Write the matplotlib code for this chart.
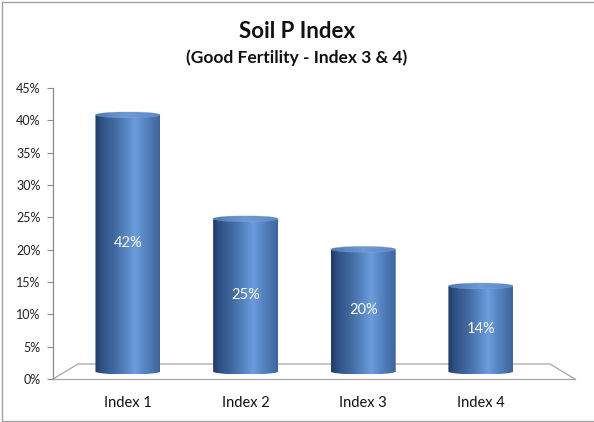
import numpy as np
import matplotlib
matplotlib.use("Agg")
import matplotlib.pyplot as plt
from matplotlib.colors import LinearSegmentedColormap
from matplotlib.patches import Ellipse, PathPatch
from matplotlib.path import Path
from matplotlib.lines import Line2D

# ---- data ----
categories = ["Index 1", "Index 2", "Index 3", "Index 4"]
values = [0.42, 0.25, 0.20, 0.14]
value_labels = ["42%", "25%", "20%", "14%"]
y_ticks = [0.00, 0.05, 0.10, 0.15, 0.20, 0.25, 0.30, 0.35, 0.40, 0.45]
y_tick_labels = ["0%", "5%", "10%", "15%", "20%", "25%", "30%", "35%", "40%", "45%"]
title = "Soil P Index"
subtitle = "(Good Fertility - Index 3 & 4)"

plt.rcParams['font.family'] = ['Lato', 'DejaVu Sans']

W, H = 594, 422
fig = plt.figure(figsize=(W / 100, H / 100), dpi=100)
fig.patch.set_facecolor("white")

# axes occupying the plot area (pixel based placement)
L, R, T, B = 53, 575, 88, 379
ax = fig.add_axes([L / W, 1 - B / H, (R - L) / W, (B - T) / H])
ax.set_facecolor("none")

xmin, xmax = -0.637, 3.80
ax.set_xlim(xmin, xmax)
ax.set_ylim(0, 0.45)

grey = "#8c8c8c"
for s in ["top", "right", "bottom"]:
    ax.spines[s].set_visible(False)
ax.spines["left"].set_color(grey)
ax.spines["left"].set_linewidth(0.9)

ax.set_yticks(y_ticks)
ax.set_yticklabels(y_tick_labels, fontsize=9, color="#222222")
ax.tick_params(axis="y", direction="out", length=4, width=0.8, color=grey, pad=5)
ax.set_xticks(range(len(categories)))
ax.set_xticklabels(categories, fontsize=10.5, color="#111111")
ax.tick_params(axis="x", length=0, pad=12)

# 3D floor (in axes coordinates)
depth_x = 25 / (R - L)
depth_y = 15 / (B - T)
floor_kw = dict(color="#a6a6a6", lw=0.9, transform=ax.transAxes, clip_on=False)
ax.add_line(Line2D([0, 1], [0, 0], **floor_kw))
ax.add_line(Line2D([0, depth_x, 1 - depth_x, 1], [0, depth_y, depth_y, 0], **floor_kw))

# cylinder styling
body_cmap = LinearSegmentedColormap.from_list("body", [
    (0.00, "#1f3a63"), (0.10, "#2e5186"), (0.30, "#41699f"),
    (0.50, "#5a89c8"), (0.62, "#6c9ddd"), (0.78, "#5583c0"),
    (0.92, "#4670a8"), (1.00, "#3d659c")])
top_cmap = LinearSegmentedColormap.from_list("top", [
    (0.0, "#4f79b2"), (0.5, "#6e9bd4"), (1.0, "#5e88c2")])

bar_w = 0.552
ry = 0.45 * 3.0 / (B - T)          # ellipse semi-axis (data units)
base = 0.45 * 7.5 / (B - T)        # mid-depth floor level
persp = 0.945                      # perspective shrink of bar heights
grad = np.linspace(0, 1, 256).reshape(1, -1)

for i, v in enumerate(values):
    x0, x1 = i - bar_w / 2, i + bar_w / 2
    top = base + v * persp
    verts = [(x0, top), (x1, top), (x1, base)] + \
        [(i + (bar_w / 2) * np.cos(a), base + ry * np.sin(a))
         for a in np.linspace(2 * np.pi, np.pi, 60)] + [(x0, top)]
    body = PathPatch(Path(verts), facecolor="none", edgecolor="none")
    ax.add_patch(body)
    im = ax.imshow(grad, cmap=body_cmap, extent=(x0, x1, base - ry, top),
                   aspect="auto", interpolation="bicubic", zorder=2)
    im.set_clip_path(body)
    # top face
    topface = Ellipse((i, top), bar_w, 2 * ry, facecolor="none", edgecolor="none")
    ax.add_patch(topface)
    im2 = ax.imshow(grad, cmap=top_cmap, extent=(x0, x1, top - ry, top + ry),
                    aspect="auto", interpolation="bicubic", zorder=3)
    im2.set_clip_path(topface)
    ax.add_patch(Ellipse((i, top), bar_w, 2 * ry, facecolor="none",
                         edgecolor="#8fb0dc", lw=0.3, alpha=0.6, zorder=4))
    ax.text(i, base + v * persp / 2, value_labels[i], ha="center", va="center",
            color="white", fontsize=10.5, zorder=5)

ax.set_xlim(xmin, xmax)
ax.set_ylim(0, 0.45)

# titles
fig.text(0.5, 1 - 31 / H, title, ha="center", va="center",
         fontsize=16, fontweight="bold", color="#111111")
fig.text(0.5, 1 - 58 / H, subtitle, ha="center", va="center",
         fontsize=12.5, fontweight="bold", color="#111111")

# chart border (left, top, bottom)
border_kw = dict(color="#a0a0a0", lw=1.0, transform=fig.transFigure)
fig.add_artist(Line2D([1.0, 1.5 / W, 1.5 / W, 1.0],
                      [1 - 1.5 / H, 1 - 1.5 / H, 1 - 420.5 / H, 1 - 420.5 / H],
                      **border_kw))

fig.savefig("out.png", dpi=100, facecolor="white")
